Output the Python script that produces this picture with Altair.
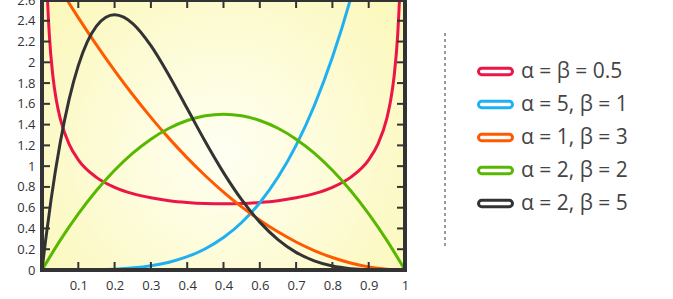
import altair as alt
import pandas as pd

labels = ["α = β = 0.5", "α = 5, β = 1", "α = 1, β = 3", "α = 2, β = 2", "α = 2, β = 5"]
colors = ["#ec1548", "#1fb0f2", "#ff5a00", "#58b800", "#333333"]

red_x = [0.01, 0.012, 0.0145, 0.02, 0.03, 0.04, 0.05, 0.075, 0.1, 0.15, 0.2, 0.25, 0.3, 0.35, 0.4, 0.45, 0.5,
         0.55, 0.6, 0.65, 0.7, 0.75, 0.8, 0.85, 0.9, 0.925, 0.95, 0.96, 0.97, 0.98, 0.9855, 0.988, 0.99]
red_y = [3.199, 2.923, 2.663, 2.274, 1.866, 1.624, 1.461, 1.209, 1.061, 0.892, 0.796, 0.735, 0.695, 0.667, 0.650, 0.640, 0.637,
         0.640, 0.650, 0.667, 0.695, 0.735, 0.796, 0.892, 1.061, 1.209, 1.461, 1.624, 1.866, 2.274, 2.663, 2.923, 3.199]

blue_x = [0, 0.1, 0.2, 0.3, 0.35, 0.4, 0.45, 0.5, 0.55, 0.6, 0.65, 0.7, 0.75, 0.8, 0.85, 0.9]
blue_y = [0, 0.0005, 0.008, 0.0405, 0.075, 0.128, 0.205, 0.3125, 0.4575, 0.648, 0.8925, 1.2005, 1.582, 2.048, 2.610, 3.2805]

orange_x = [0, 0.05, 0.1, 0.15, 0.2, 0.25, 0.3, 0.35, 0.4, 0.45, 0.5, 0.55, 0.6, 0.65, 0.7, 0.75, 0.8, 0.85, 0.9, 0.95, 1]
orange_y = [3.0, 2.7075, 2.43, 2.1675, 1.92, 1.6875, 1.47, 1.2675, 1.08, 0.9075, 0.75, 0.6075, 0.48, 0.3675, 0.27,
            0.1875, 0.12, 0.0675, 0.03, 0.0075, 0]

green_x = [0, 0.05, 0.1, 0.15, 0.2, 0.25, 0.3, 0.35, 0.4, 0.45, 0.5, 0.55, 0.6, 0.65, 0.7, 0.75, 0.8, 0.85, 0.9, 0.95, 1]
green_y = [0, 0.285, 0.54, 0.765, 0.96, 1.125, 1.26, 1.365, 1.44, 1.485, 1.5, 1.485, 1.44, 1.365, 1.26, 1.125, 0.96,
           0.765, 0.54, 0.285, 0]

black_x = [0, 0.01, 0.025, 0.05, 0.075, 0.1, 0.125, 0.15, 0.175, 0.2, 0.225, 0.25, 0.3, 0.35, 0.4, 0.45, 0.5,
           0.55, 0.6, 0.65, 0.7, 0.75, 0.8, 0.85, 0.9, 0.95, 1]
black_y = [0, 0.288, 0.678, 1.222, 1.647, 1.968, 2.198, 2.349, 2.432, 2.458, 2.435, 2.373, 2.161, 1.874, 1.555, 1.235,
           0.938, 0.677, 0.461, 0.293, 0.170, 0.088, 0.038, 0.013, 0.003, 0.0002, 0]

x_label_values = [0.1, 0.2, 0.3, 0.4, 0.5, 0.6, 0.7, 0.8, 0.9, 1]
x_tick_values = [0.1, 0.2, 0.3, 0.4, 0.5, 0.6, 0.7, 0.8, 0.9]
y_label_values = [0, 0.2, 0.4, 0.6, 0.8, 1, 1.2, 1.4, 1.6, 1.8, 2, 2.2, 2.4, 2.6]
y_tick_values = [0.2, 0.4, 0.6, 0.8, 1, 1.2, 1.4, 1.6, 1.8, 2, 2.2, 2.4]

rows = []
for lab, xs, ys in zip(labels, [red_x, blue_x, orange_x, green_x, black_x],
                       [red_y, blue_y, orange_y, green_y, black_y]):
    for i, (a, b) in enumerate(zip(xs, ys)):
        rows.append({"series": lab, "x": a, "y": b, "i": i})
df = pd.DataFrame(rows)

W, H = 363, 270
FONT = "Open Sans"
xscale = alt.Scale(domain=[0, 1], nice=False, zero=False)
yscale = alt.Scale(domain=[0, 2.6], nice=False, zero=False)
one = pd.DataFrame({"k": [0]})

xaxis = alt.Axis(values=x_label_values, format=".1~f", labelExpr="datum.value == 0.5 ? '0.4' : datum.label",
                 ticks=False, domain=False, grid=False, labelFlush=False, labelPadding=9, title=None)
yaxis = alt.Axis(values=y_label_values, format=".1~f", ticks=False, domain=False, grid=False,
                 labelFlush=False, labelPadding=7, title=None)

bg = alt.Chart(one).mark_rect(
    fill={"gradient": "radial", "x1": 0.5, "y1": 0.55, "r1": 0, "x2": 0.5, "y2": 0.55, "r2": 0.62,
          "stops": [{"offset": 0, "color": "#fffff3"}, {"offset": 1, "color": "#fbf8bb"}]},
).encode(x=alt.value(0), x2=alt.value(W), y=alt.value(0), y2=alt.value(H))

path = "M-0.815,-0.185 L0.815,-0.185 A0.185,0.185 0 0 1 0.815,0.185 L-0.815,0.185 A0.185,0.185 0 0 1 -0.815,-0.185 Z"

lines = alt.Chart(df).mark_line(strokeWidth=3, interpolate="monotone", clip=True).encode(
    x=alt.X("x:Q", scale=xscale, axis=xaxis),
    y=alt.Y("y:Q", scale=yscale, axis=yaxis),
    color=alt.Color("series:N", scale=alt.Scale(domain=labels, range=colors), sort=labels,
                    legend=alt.Legend(title=None, orient="none", legendX=435, legendY=53, symbolType=path,
                                      symbolSize=1156, symbolStrokeWidth=3, symbolFillColor="white",
                                      labelFontSize=21, labelFont=FONT, labelColor="#444444", labelOffset=7,
                                      rowPadding=4, padding=0, labelLimit=300)),
    order="i:Q",
)

xt = pd.DataFrame({"x": x_tick_values})
yt = pd.DataFrame({"y": y_tick_values})
tick_style = dict(color="#333333", strokeWidth=2)
bottom_ticks = alt.Chart(xt).mark_rule(**tick_style).encode(
    x=alt.X("x:Q", scale=xscale, axis=xaxis), y=alt.value(H), y2=alt.value(H - 8))
top_ticks = alt.Chart(xt).mark_rule(**tick_style).encode(
    x=alt.X("x:Q", scale=xscale, axis=xaxis), y=alt.value(0), y2=alt.value(8))
left_ticks = alt.Chart(yt).mark_rule(**tick_style).encode(
    y=alt.Y("y:Q", scale=yscale, axis=yaxis), x=alt.value(0), x2=alt.value(8))
right_ticks = alt.Chart(yt).mark_rule(**tick_style).encode(
    y=alt.Y("y:Q", scale=yscale, axis=yaxis), x=alt.value(W), x2=alt.value(W - 8))

frame = alt.Chart(one).mark_rect(fill="transparent", stroke="#333333", strokeWidth=4).encode(
    x=alt.value(0), x2=alt.value(W), y=alt.value(0), y2=alt.value(H))

divider = alt.Chart(one).mark_rule(color="#9a9a9a", strokeWidth=2, strokeDash=[3, 3]).encode(
    x=alt.value(403), y=alt.value(33), y2=alt.value(248))

chart = alt.layer(bg, lines, bottom_ticks, top_ticks, left_ticks, right_ticks, frame, divider).properties(
    width=W, height=H,
    padding={"left": 42, "top": 0, "right": 268, "bottom": 29},
    autosize=alt.AutoSizeParams(type="none"),
).configure_view(stroke=None).configure_axis(
    labelFont=FONT, labelFontSize=13, labelColor="#333333"
)

chart.save("out.html", embed_options={"renderer": "svg", "actions": False})
